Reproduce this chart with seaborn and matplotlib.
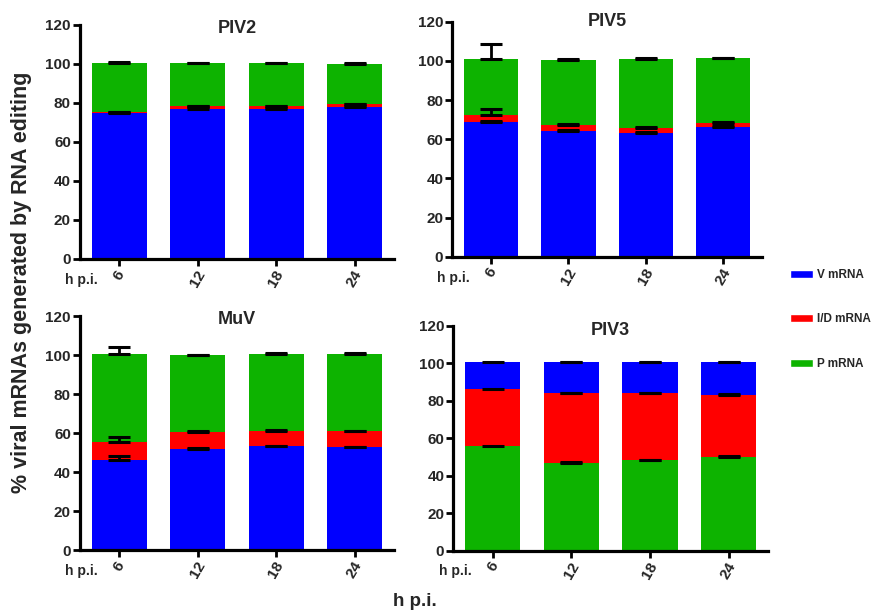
import numpy as np
import pandas as pd
import matplotlib
matplotlib.use("Agg")
import matplotlib.pyplot as plt
import seaborn as sns
from matplotlib.patches import Patch

hours = ["6", "12", "18", "24"]
yticks = [0, 20, 40, 60, 80, 100, 120]

# PIV2 (stack: V, I/D, P)
piv2_v = [75.0, 77.0, 77.0, 78.0]
piv2_id = [0.4, 1.2, 1.2, 1.4]
piv2_p = [25.1, 22.1, 22.1, 20.8]
piv2_v_err = [0.6, 0.7, 0.6, 0.6]
piv2_id_err = [np.nan, 0.3, 0.3, 0.3]
piv2_p_err = [0.4, 0.3, 0.3, 0.3]

# PIV5 (stack: V, I/D, P)
piv5_v = [68.9, 64.2, 63.2, 66.1]
piv5_id = [3.5, 3.1, 2.5, 2.3]
piv5_p = [28.6, 33.3, 35.4, 32.9]
piv5_v_err = [0.3, 0.4, 0.4, 0.4]
piv5_id_err = [3.0, 0.3, 0.3, 0.3]
piv5_p_err = [7.5, 0.3, 0.4, 0.4]

# MuV (stack: V, I/D, P)
muv_v = [46.0, 51.8, 53.2, 52.7]
muv_id = [9.6, 8.9, 7.8, 8.2]
muv_p = [44.7, 39.3, 39.5, 39.7]
muv_v_err = [2.2, 0.3, 0.3, 0.3]
muv_id_err = [2.5, 0.3, 0.3, 0.3]
muv_p_err = [3.8, 0.2, 0.3, 0.5]

# PIV3 (stack: P, I/D, V)
piv3_p = [56.0, 46.7, 48.3, 50.2]
piv3_id = [30.5, 37.3, 35.7, 32.9]
piv3_v = [14.0, 16.5, 16.5, 17.4]
piv3_p_err = [np.nan, 0.4, 0.3, 0.3]
piv3_id_err = [np.nan, 0.3, 0.3, 0.3]
piv3_v_err = [np.nan, 0.3, 0.3, 0.3]

BLUE = "#0000FF"
RED = "#FF0000"
GREEN = "#0DB300"

sns.set_style("ticks")
plt.rcParams["font.family"] = ["Liberation Sans", "DejaVu Sans"]
plt.rcParams["font.weight"] = "bold"

fig = plt.figure(figsize=(8.76, 6.14), dpi=100)

panels = [
    ("PIV2", [0.0913, 0.5782, 0.3585, 0.3811], 0.987,
     [(piv2_v, BLUE, piv2_v_err), (piv2_id, RED, piv2_id_err), (piv2_p, GREEN, piv2_p_err)]),
    ("PIV5", [0.5163, 0.5819, 0.3536, 0.3827], 1.0,
     [(piv5_v, BLUE, piv5_v_err), (piv5_id, RED, piv5_id_err), (piv5_p, GREEN, piv5_p_err)]),
    ("MuV", [0.0913, 0.1042, 0.3585, 0.3811], 0.987,
     [(muv_v, BLUE, muv_v_err), (muv_id, RED, muv_id_err), (muv_p, GREEN, muv_p_err)]),
    ("PIV3", [0.5175, 0.1031, 0.3592, 0.3664], 0.98,
     [(piv3_p, GREEN, piv3_p_err), (piv3_id, RED, piv3_id_err), (piv3_v, BLUE, piv3_v_err)]),
]

for title, rect, ty, layers in panels:
    ax = fig.add_axes(rect)
    cum = np.zeros(len(hours))
    tops = []
    for vals, col, err in layers:
        cum = cum + np.array(vals)
        tops.append((cum.copy(), col, np.array(err)))
    for top, col, err in reversed(tops):
        df = pd.DataFrame({"h": hours, "val": top})
        sns.barplot(data=df, x="h", y="val", color=col, width=0.7, ax=ax,
                    saturation=1, errorbar=None, linewidth=0)
    for top, col, err in tops:
        ax.errorbar(np.arange(len(hours)), top, yerr=[np.zeros(len(hours)), err],
                    fmt="none", ecolor="black", elinewidth=2, capsize=8, capthick=2.2, zorder=5)
    ax.set_xlim(-0.5, 3.5)
    ax.set_ylim(0, 120)
    ax.set_yticks(yticks)
    ax.set_xlabel("")
    ax.set_ylabel("")
    sns.despine(ax=ax)
    for s in ["left", "bottom"]:
        ax.spines[s].set_linewidth(2.3)
        ax.spines[s].set_color("black")
    ax.tick_params(axis="both", which="major", length=5, width=2, color="black",
                   labelsize=11, pad=1.5)
    ax.tick_params(axis="x", labelrotation=60)
    for lab in ax.get_xticklabels() + ax.get_yticklabels():
        lab.set_fontweight("bold")
    ax.text(0.5, ty, title, transform=ax.transAxes, ha="center", va="center",
            fontsize=13, fontweight="bold")
    ax.text(0.005, -0.09, "h p.i.", transform=ax.transAxes, ha="center", va="center",
            fontsize=10, fontweight="bold")

handles = [Patch(facecolor=BLUE, label="V mRNA"),
           Patch(facecolor=RED, label="I/D mRNA"),
           Patch(facecolor=GREEN, label="P mRNA")]
fig.legend(handles=handles, loc="upper left", bbox_to_anchor=(0.902, 0.562),
           frameon=False, handlelength=1.95, handleheight=0.7,
           handletextpad=0.3, labelspacing=2.75, borderpad=0, borderaxespad=0,
           prop={"weight": "bold", "size": 8.5})

fig.text(0.024, 0.54, "% viral mRNAs generated by RNA editing", rotation=90,
         ha="center", va="center", fontsize=15.5, fontweight="bold")
fig.text(0.474, 0.021, "h p.i.", ha="center", va="center", fontsize=13.5, fontweight="bold")

fig.savefig("out.png", dpi=100)
